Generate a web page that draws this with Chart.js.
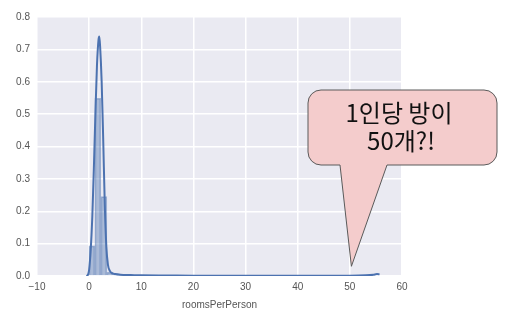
<!DOCTYPE html>
<html><head><meta charset="utf-8">
<script src="https://cdn.jsdelivr.net/npm/chart.js@4/dist/chart.umd.min.js"></script>
<style>html,body{margin:0;padding:0;background:#fff;}#wrap{width:506px;height:311px;}</style>
</head><body><div id="wrap"><canvas id="c" width="506" height="311"></canvas></div>
<script>
// histogram (density) bins of roomsPerPerson
const binCenters = [0.525, 1.675, 2.825, 3.975, 5.125, 6.275, 7.425];
const binHeights = [0.093, 0.549, 0.245, 0.012, 0.003, 0.0015, 0.001];
// KDE curve
const kdeX = [-0.5, -0.2, 0, 0.3, 0.6, 0.9, 1.2, 1.5, 1.8, 1.95, 2.1, 2.4, 2.7, 3.0, 3.3, 3.6, 4.0, 4.5, 5, 6, 8, 10, 15, 20, 30, 40, 50, 53, 54.5, 55.2, 55.7];
const kdeY = [0, 0.005, 0.02, 0.08, 0.18, 0.33, 0.5, 0.65, 0.73, 0.74, 0.71, 0.6, 0.42, 0.22, 0.09, 0.035, 0.015, 0.008, 0.006, 0.004, 0.003, 0.002, 0.0015, 0.001, 0.001, 0.001, 0.001, 0.002, 0.004, 0.006, 0.005];
const xTicks = [-10, 0, 10, 20, 30, 40, 50, 60];
const yTicks = [0.0, 0.1, 0.2, 0.3, 0.4, 0.5, 0.6, 0.7, 0.8];
const xTitle = 'roomsPerPerson';
const calloutLines = ['1인당 방이', '50개?!'];
const calloutTarget = {x: 50.3, y: 0.03};

const bgPlugin = {
  id: 'bg',
  beforeDraw(chart) {
    const {ctx, chartArea: a} = chart;
    ctx.save();
    ctx.fillStyle = '#EAEAF2';
    ctx.fillRect(a.left, a.top, a.right - a.left, a.bottom - a.top);
    ctx.restore();
  }
};
const calloutPlugin = {
  id: 'callout',
  afterDraw(chart) {
    const ctx = chart.ctx;
    const tx = chart.scales.x.getPixelForValue(calloutTarget.x);
    const ty = chart.scales.y.getPixelForValue(calloutTarget.y);
    const L = 308, T = 90, R = 497, B = 165, r = 13;
    const b1 = 340, b2 = 387;
    ctx.save();
    ctx.beginPath();
    ctx.moveTo(L + r, T);
    ctx.lineTo(R - r, T);
    ctx.arcTo(R, T, R, T + r, r);
    ctx.lineTo(R, B - r);
    ctx.arcTo(R, B, R - r, B, r);
    ctx.lineTo(b2, B);
    ctx.lineTo(tx, ty);
    ctx.lineTo(b1, B);
    ctx.lineTo(L + r, B);
    ctx.arcTo(L, B, L, B - r, r);
    ctx.lineTo(L, T + r);
    ctx.arcTo(L, T, L + r, T, r);
    ctx.closePath();
    ctx.fillStyle = '#F4CCCC';
    ctx.fill();
    ctx.strokeStyle = '#5A5A5A';
    ctx.lineWidth = 1;
    ctx.stroke();
    ctx.fillStyle = '#111';
    ctx.font = '24px "Noto Sans CJK KR", sans-serif';
    ctx.textAlign = 'center';
    ctx.textBaseline = 'middle';
    ctx.fillText(calloutLines[0], 399, 113);
    ctx.fillText(calloutLines[1], 401, 141);
    ctx.restore();
  }
};

new Chart(document.getElementById('c'), {
  type: 'bar',
  data: {
    datasets: [
      {
        type: 'line',
        data: kdeX.map((x, i) => ({x, y: kdeY[i]})),
        borderColor: '#4C72B0',
        borderWidth: 2,
        pointRadius: 0,
        cubicInterpolationMode: 'monotone',
        fill: false
      },
      {
        type: 'bar',
        data: binCenters.map((x, i) => ({x, y: binHeights[i]})),
        backgroundColor: 'rgba(76,114,176,0.4)',
        borderColor: 'rgba(76,114,176,0.45)',
        borderWidth: 1,
        barPercentage: 1,
        categoryPercentage: 1
      }
    ]
  },
  options: {
    responsive: false,
    animation: false,
    layout: {padding: {left: 0, top: 17, right: 104, bottom: 0}},
    plugins: {legend: {display: false}, tooltip: {enabled: false}},
    scales: {
      x: {
        type: 'linear', min: -10, max: 60, offset: false,
        afterFit(s) { s.height = 35; },
        afterBuildTicks(s) { s.ticks = xTicks.map(v => ({value: v})); },
        grid: {color: '#FFFFFF', lineWidth: 1.5, drawTicks: false, offset: false},
        border: {display: false},
        ticks: {
          padding: 5, color: '#555555', maxRotation: 0,
          font: {family: '"Liberation Sans", Arial, sans-serif', size: 10},
          callback: v => String(v).replace('-', '\u2212')
        },
        title: {display: true, text: xTitle, color: '#555555', padding: {top: 1, bottom: 0},
          font: {family: '"Liberation Sans", Arial, sans-serif', size: 10}}
      },
      y: {
        min: 0, max: 0.8,
        afterFit(s) { s.width = 37; },
        afterBuildTicks(s) { s.ticks = yTicks.map(v => ({value: v})); },
        grid: {color: '#FFFFFF', lineWidth: 1.5, drawTicks: false},
        border: {display: false},
        ticks: {
          padding: 7, color: '#555555',
          font: {family: '"Liberation Sans", Arial, sans-serif', size: 10},
          callback: v => Number(v).toFixed(1)
        }
      }
    }
  },
  plugins: [bgPlugin, calloutPlugin]
});
</script>
</body></html>
